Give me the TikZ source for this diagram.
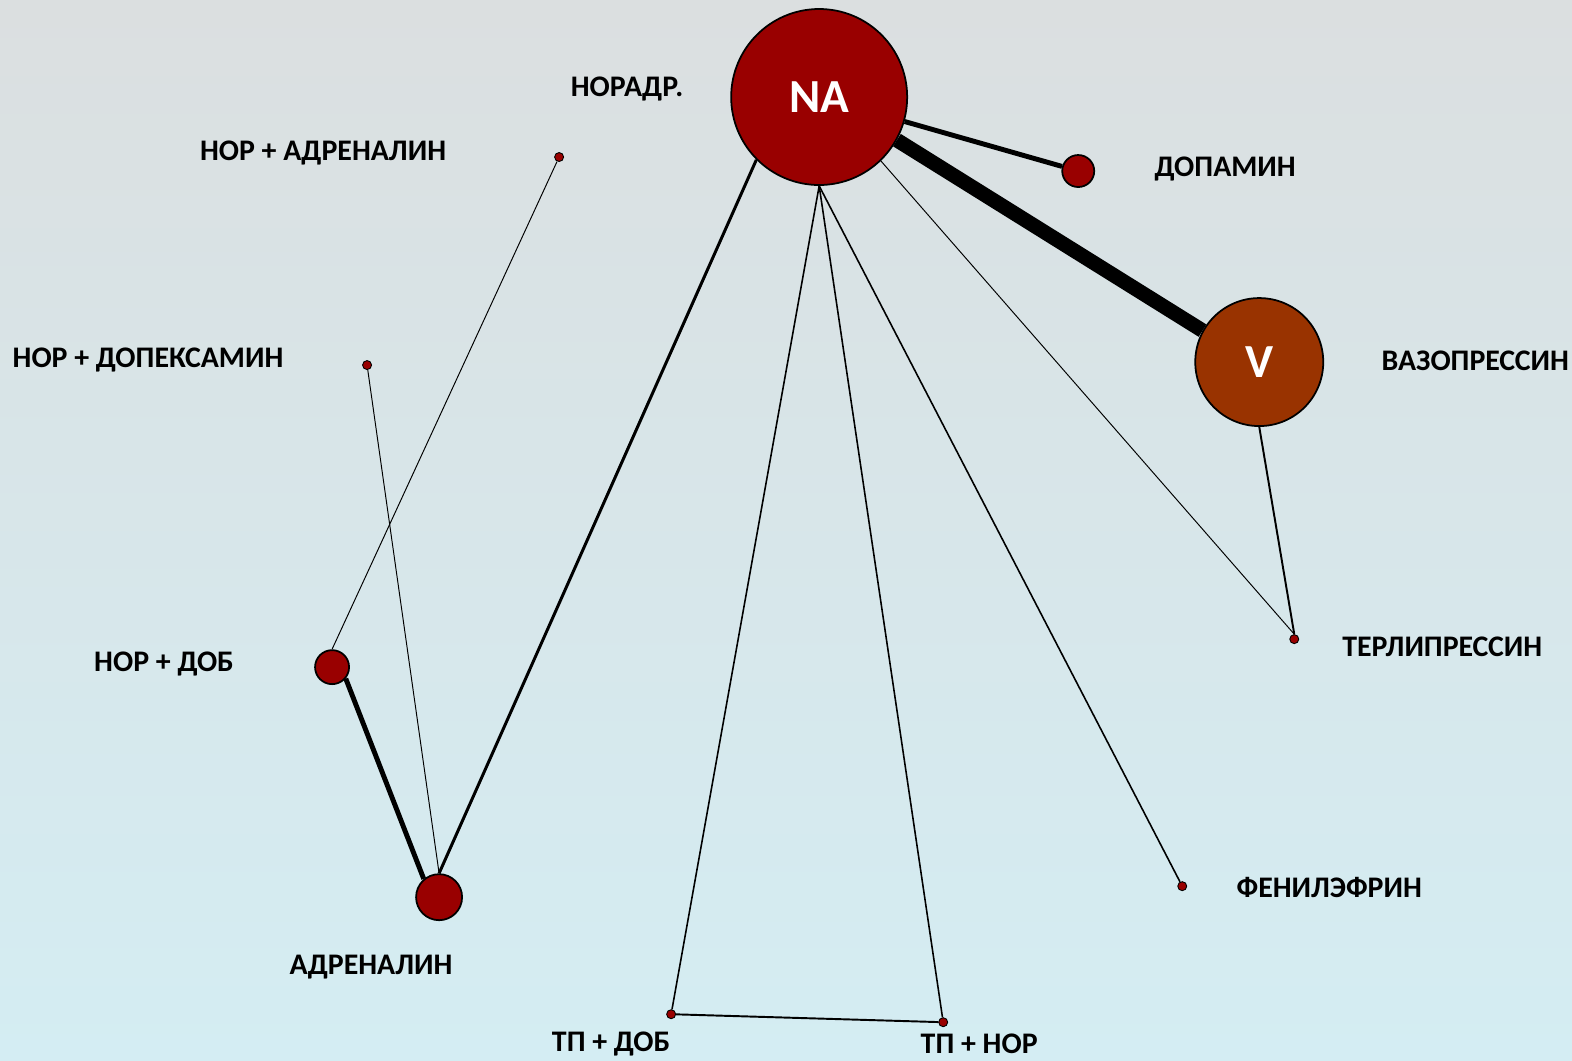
\documentclass[tikz,border=0pt]{standalone}
\usepackage{fontspec}
\setmainfont{Carlito}
\definecolor{nared}{RGB}{153,0,0}
\definecolor{vbrown}{RGB}{153,51,0}
\definecolor{bgtop}{RGB}{219,223,224}
\definecolor{bgbot}{RGB}{212,237,243}
\begin{document}
\begin{tikzpicture}[x=0.02cm,y=-0.02cm,
  lab/.style={font=\fontsize{17}{20}\selectfont\bfseries, text=black, inner sep=0},
  bignode/.style={circle, draw=black, line width=1pt, inner sep=0, text=white, font=\fontsize{27}{30}\selectfont\bfseries},
  rednode/.style={circle, draw=black, line width=1pt, fill=nared, inner sep=0},
  dotnode/.style={circle, draw=black, line width=0.5pt, fill=nared, inner sep=0, minimum size=0.18cm},
  wthin/.style={draw=black, line width=0.55pt},
  wone/.style={draw=black, line width=0.9pt},
  wtwo/.style={draw=black, line width=1.1pt},
  wthree/.style={draw=black, line width=1.7pt},
  wfive/.style={draw=black, line width=2.8pt},
  wbig/.style={draw=black, line width=8.3pt},
]
\useasboundingbox (0cm,0cm) rectangle (31.44cm,-21.22cm);
\shade[top color=bgtop, bottom color=bgbot] (0cm,0cm) rectangle (31.44cm,-21.22cm);

% nodes
\node[bignode, fill=nared, minimum size=3.52cm] (NA) at (819,97) {NA};
\node[bignode, fill=vbrown, minimum size=2.56cm] (V) at (1259,362) {V};
\node[rednode, minimum size=0.64cm] (dop) at (1078,171) {};
\node[rednode, minimum size=0.68cm] (nd) at (332,667) {};
\node[rednode, minimum size=0.92cm] (adr) at (439,897) {};
\node[dotnode] (terl) at (1294,639) {};
\node[dotnode] (fen) at (1182,886) {};
\node[dotnode] (tpd) at (671,1014) {};
\node[dotnode] (tpn) at (943,1022) {};
\node[dotnode] (dpx) at (367,365) {};
\node[dotnode] (nadr) at (559,157) {};

% labels
\node[lab] (lNA) at (627,89) {НОРАДР.};
\node[lab] (lnadr) at (323,153) {НОР + АДРЕНАЛИН};
\node[lab] (ldop) at (1225,169) {ДОПАМИН};
\node[lab] (ldpx) at (148,360) {НОР + ДОПЕКСАМИН};
\node[lab] (lV) at (1475,361) {ВАЗОПРЕССИН};
\node[lab] (lterl) at (1442,647) {ТЕРЛИПРЕССИН};
\node[lab] (lnd) at (164,664) {НОР + ДОБ};
\node[lab] (lfen) at (1329,887) {ФЕНИЛЭФРИН};
\node[lab] (ladr) at (371,967) {АДРЕНАЛИН};
\node[lab] (ltpd) at (611,1044) {ТП + ДОБ};
\node[lab] (ltpn) at (979,1044) {ТП + НОР};

% connectors
\draw[wbig] (NA.331) -- (V.151);
\draw[wfive] (NA.344) -- (dop);
\draw[wthin] (NA.314) -- (terl.north);
\draw[wtwo] (V.270) -- (terl.north);
\draw[wone] (NA.270) -- (fen);
\draw[wone] (NA.270) -- (tpn);
\draw[wone] (NA.270) -- (tpd);
\draw[wtwo] (tpd) -- (tpn);
\draw[wthree] (NA.225) -- (adr.90);
\draw[wthin] (adr.90) -- (dpx);
\draw[wfive] (adr.130) -- (nd.320);
\draw[wthin] (nd.90) -- (nadr);
\end{tikzpicture}
\end{document}
